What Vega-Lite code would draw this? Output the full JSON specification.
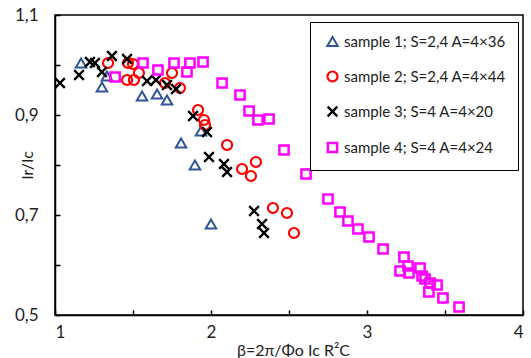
{
  "$schema": "https://vega.github.io/schema/vega-lite/v6.json",
  "width": 468,
  "height": 300,
  "autosize": {"type": "none"},
  "padding": {"left": 55, "top": 15, "right": 8, "bottom": 43},
  "background": "white",
  "config": {
    "font": "Lato",
    "view": {"stroke": "black", "strokeWidth": 1.5},
    "axis": {"grid": false, "domainColor": "black", "domainWidth": 1.5, "tickColor": "black", "tickWidth": 1.5, "labelColor": "#222", "titleColor": "#222", "labelFont": "Lato", "titleFont": "Lato", "titleFontWeight": "normal", "labelFontSize": 17, "titleFontSize": 16}
  },
  "data": {"values": [
    {"s": "sample 1; S=2,4 A=4×36", "b": 1.167, "r": 1.004},
    {"s": "sample 1; S=2,4 A=4×36", "b": 1.301, "r": 0.956},
    {"s": "sample 1; S=2,4 A=4×36", "b": 1.333, "r": 0.978},
    {"s": "sample 1; S=2,4 A=4×36", "b": 1.558, "r": 0.938},
    {"s": "sample 1; S=2,4 A=4×36", "b": 1.654, "r": 0.942},
    {"s": "sample 1; S=2,4 A=4×36", "b": 1.718, "r": 0.930},
    {"s": "sample 1; S=2,4 A=4×36", "b": 1.808, "r": 0.844},
    {"s": "sample 1; S=2,4 A=4×36", "b": 1.897, "r": 0.800},
    {"s": "sample 1; S=2,4 A=4×36", "b": 1.936, "r": 0.868},
    {"s": "sample 1; S=2,4 A=4×36", "b": 2.000, "r": 0.682},
    {"s": "sample 2; S=2,4 A=4×44", "b": 1.340, "r": 1.004},
    {"s": "sample 2; S=2,4 A=4×44", "b": 1.468, "r": 1.004},
    {"s": "sample 2; S=2,4 A=4×44", "b": 1.500, "r": 1.002},
    {"s": "sample 2; S=2,4 A=4×44", "b": 1.462, "r": 0.970},
    {"s": "sample 2; S=2,4 A=4×44", "b": 1.506, "r": 0.970},
    {"s": "sample 2; S=2,4 A=4×44", "b": 1.538, "r": 0.984},
    {"s": "sample 2; S=2,4 A=4×44", "b": 1.705, "r": 0.964},
    {"s": "sample 2; S=2,4 A=4×44", "b": 1.750, "r": 0.984},
    {"s": "sample 2; S=2,4 A=4×44", "b": 1.801, "r": 0.954},
    {"s": "sample 2; S=2,4 A=4×44", "b": 1.917, "r": 0.910},
    {"s": "sample 2; S=2,4 A=4×44", "b": 1.955, "r": 0.890},
    {"s": "sample 2; S=2,4 A=4×44", "b": 1.962, "r": 0.880},
    {"s": "sample 2; S=2,4 A=4×44", "b": 2.103, "r": 0.840},
    {"s": "sample 2; S=2,4 A=4×44", "b": 2.199, "r": 0.792},
    {"s": "sample 2; S=2,4 A=4×44", "b": 2.256, "r": 0.778},
    {"s": "sample 2; S=2,4 A=4×44", "b": 2.288, "r": 0.806},
    {"s": "sample 2; S=2,4 A=4×44", "b": 2.397, "r": 0.714},
    {"s": "sample 2; S=2,4 A=4×44", "b": 2.487, "r": 0.704},
    {"s": "sample 2; S=2,4 A=4×44", "b": 2.532, "r": 0.664},
    {"s": "sample 3; S=4 A=4×20", "b": 1.032, "r": 0.964},
    {"s": "sample 3; S=4 A=4×20", "b": 1.154, "r": 0.980},
    {"s": "sample 3; S=4 A=4×20", "b": 1.224, "r": 1.006},
    {"s": "sample 3; S=4 A=4×20", "b": 1.256, "r": 1.004},
    {"s": "sample 3; S=4 A=4×20", "b": 1.301, "r": 0.986},
    {"s": "sample 3; S=4 A=4×20", "b": 1.365, "r": 1.018},
    {"s": "sample 3; S=4 A=4×20", "b": 1.462, "r": 1.012},
    {"s": "sample 3; S=4 A=4×20", "b": 1.590, "r": 0.968},
    {"s": "sample 3; S=4 A=4×20", "b": 1.647, "r": 0.970},
    {"s": "sample 3; S=4 A=4×20", "b": 1.718, "r": 0.960},
    {"s": "sample 3; S=4 A=4×20", "b": 1.776, "r": 0.952},
    {"s": "sample 3; S=4 A=4×20", "b": 1.885, "r": 0.898},
    {"s": "sample 3; S=4 A=4×20", "b": 1.974, "r": 0.866},
    {"s": "sample 3; S=4 A=4×20", "b": 1.987, "r": 0.816},
    {"s": "sample 3; S=4 A=4×20", "b": 2.083, "r": 0.802},
    {"s": "sample 3; S=4 A=4×20", "b": 2.103, "r": 0.786},
    {"s": "sample 3; S=4 A=4×20", "b": 2.276, "r": 0.708},
    {"s": "sample 3; S=4 A=4×20", "b": 2.327, "r": 0.682},
    {"s": "sample 3; S=4 A=4×20", "b": 2.340, "r": 0.664},
    {"s": "sample 4; S=4 A=4×24", "b": 1.385, "r": 0.976},
    {"s": "sample 4; S=4 A=4×24", "b": 1.564, "r": 1.004},
    {"s": "sample 4; S=4 A=4×24", "b": 1.660, "r": 0.990},
    {"s": "sample 4; S=4 A=4×24", "b": 1.763, "r": 1.004},
    {"s": "sample 4; S=4 A=4×24", "b": 1.846, "r": 0.986},
    {"s": "sample 4; S=4 A=4×24", "b": 1.865, "r": 1.004},
    {"s": "sample 4; S=4 A=4×24", "b": 1.949, "r": 1.006},
    {"s": "sample 4; S=4 A=4×24", "b": 2.071, "r": 0.964},
    {"s": "sample 4; S=4 A=4×24", "b": 2.186, "r": 0.940},
    {"s": "sample 4; S=4 A=4×24", "b": 2.244, "r": 0.908},
    {"s": "sample 4; S=4 A=4×24", "b": 2.301, "r": 0.890},
    {"s": "sample 4; S=4 A=4×24", "b": 2.372, "r": 0.892},
    {"s": "sample 4; S=4 A=4×24", "b": 2.468, "r": 0.830},
    {"s": "sample 4; S=4 A=4×24", "b": 2.609, "r": 0.782},
    {"s": "sample 4; S=4 A=4×24", "b": 2.750, "r": 0.732},
    {"s": "sample 4; S=4 A=4×24", "b": 2.827, "r": 0.706},
    {"s": "sample 4; S=4 A=4×24", "b": 2.878, "r": 0.688},
    {"s": "sample 4; S=4 A=4×24", "b": 2.942, "r": 0.672},
    {"s": "sample 4; S=4 A=4×24", "b": 3.013, "r": 0.656},
    {"s": "sample 4; S=4 A=4×24", "b": 3.103, "r": 0.632},
    {"s": "sample 4; S=4 A=4×24", "b": 3.237, "r": 0.616},
    {"s": "sample 4; S=4 A=4×24", "b": 3.212, "r": 0.588},
    {"s": "sample 4; S=4 A=4×24", "b": 3.263, "r": 0.598},
    {"s": "sample 4; S=4 A=4×24", "b": 3.269, "r": 0.584},
    {"s": "sample 4; S=4 A=4×24", "b": 3.340, "r": 0.594},
    {"s": "sample 4; S=4 A=4×24", "b": 3.353, "r": 0.578},
    {"s": "sample 4; S=4 A=4×24", "b": 3.372, "r": 0.572},
    {"s": "sample 4; S=4 A=4×24", "b": 3.404, "r": 0.564},
    {"s": "sample 4; S=4 A=4×24", "b": 3.449, "r": 0.560},
    {"s": "sample 4; S=4 A=4×24", "b": 3.397, "r": 0.546},
    {"s": "sample 4; S=4 A=4×24", "b": 3.487, "r": 0.534},
    {"s": "sample 4; S=4 A=4×24", "b": 3.590, "r": 0.516}
  ]},
  "mark": {"type": "point", "filled": false, "opacity": 1},
  "encoding": {
    "x": {"field": "b", "type": "quantitative",
      "scale": {"domain": [1, 4], "nice": false, "zero": false},
      "axis": {"values": [1, 1.5, 2, 2.5, 3, 3.5, 4], "tickSize": -5, "labelPadding": 14,
        "labelExpr": "datum.value % 1 == 0 ? format(datum.value, 'd') : ''",
        "title": "β=2π/Φo Ic R²C", "titleX": 238, "titleY": 35, "titleBaseline": "middle", "titleAlign": "center"}},
    "y": {"field": "r", "type": "quantitative",
      "scale": {"domain": [0.5, 1.1], "nice": false, "zero": false},
      "axis": {"values": [0.5, 0.6, 0.7, 0.8, 0.9, 1.0, 1.1], "tickSize": -5, "labelPadding": 22,
        "labelExpr": "round(datum.value*10) % 2 == 1 ? replace(format(datum.value, '.1f'), '.', ',') : ''",
        "title": "Ir/Ic", "titleX": -28, "titleY": 150, "titleAngle": -90, "titleBaseline": "middle", "titleAlign": "center"}},
    "color": {"field": "s", "type": "nominal",
      "scale": {"domain": ["sample 1; S=2,4 A=4×36", "sample 2; S=2,4 A=4×44", "sample 3; S=4 A=4×20", "sample 4; S=4 A=4×24"],
        "range": ["#2F5597", "#FF0000", "#000000", "#FF00FF"]},
      "legend": {"title": null, "orient": "none", "legendX": 255, "legendY": 7,
        "strokeColor": "black", "fillColor": "white",
        "padding": 12, "rowPadding": 16, "labelFontSize": 15, "labelColor": "#222", "labelFont": "Lato",
        "symbolSize": 110, "symbolStrokeWidth": 2.5, "labelLimit": 0, "symbolOffset": 3,
        "encode": {
          "legend": {"update": {"strokeWidth": {"value": 1.5}}},
          "symbols": {"update": {
            "size": {"signal": "datum.value == 'sample 3; S=4 A=4×20' ? 260 : 110"},
            "strokeWidth": {"signal": "datum.value == 'sample 3; S=4 A=4×20' ? 3 : 2.5"}}}}}},
    "shape": {"field": "s", "type": "nominal",
      "scale": {"domain": ["sample 1; S=2,4 A=4×36", "sample 2; S=2,4 A=4×44", "sample 3; S=4 A=4×20", "sample 4; S=4 A=4×24"],
        "range": ["triangle-up", "circle", "M-1,-1L1,1M-1,1L1,-1", "square"]}},
    "size": {"field": "s", "type": "nominal", "legend": null,
      "scale": {"domain": ["sample 1; S=2,4 A=4×36", "sample 2; S=2,4 A=4×44", "sample 3; S=4 A=4×20", "sample 4; S=4 A=4×24"],
        "range": [110, 85, 280, 100]}},
    "strokeWidth": {"field": "s", "type": "nominal", "legend": null,
      "scale": {"domain": ["sample 1; S=2,4 A=4×36", "sample 2; S=2,4 A=4×44", "sample 3; S=4 A=4×20", "sample 4; S=4 A=4×24"],
        "range": [2, 2.5, 3, 2.5]}}
  }
}
